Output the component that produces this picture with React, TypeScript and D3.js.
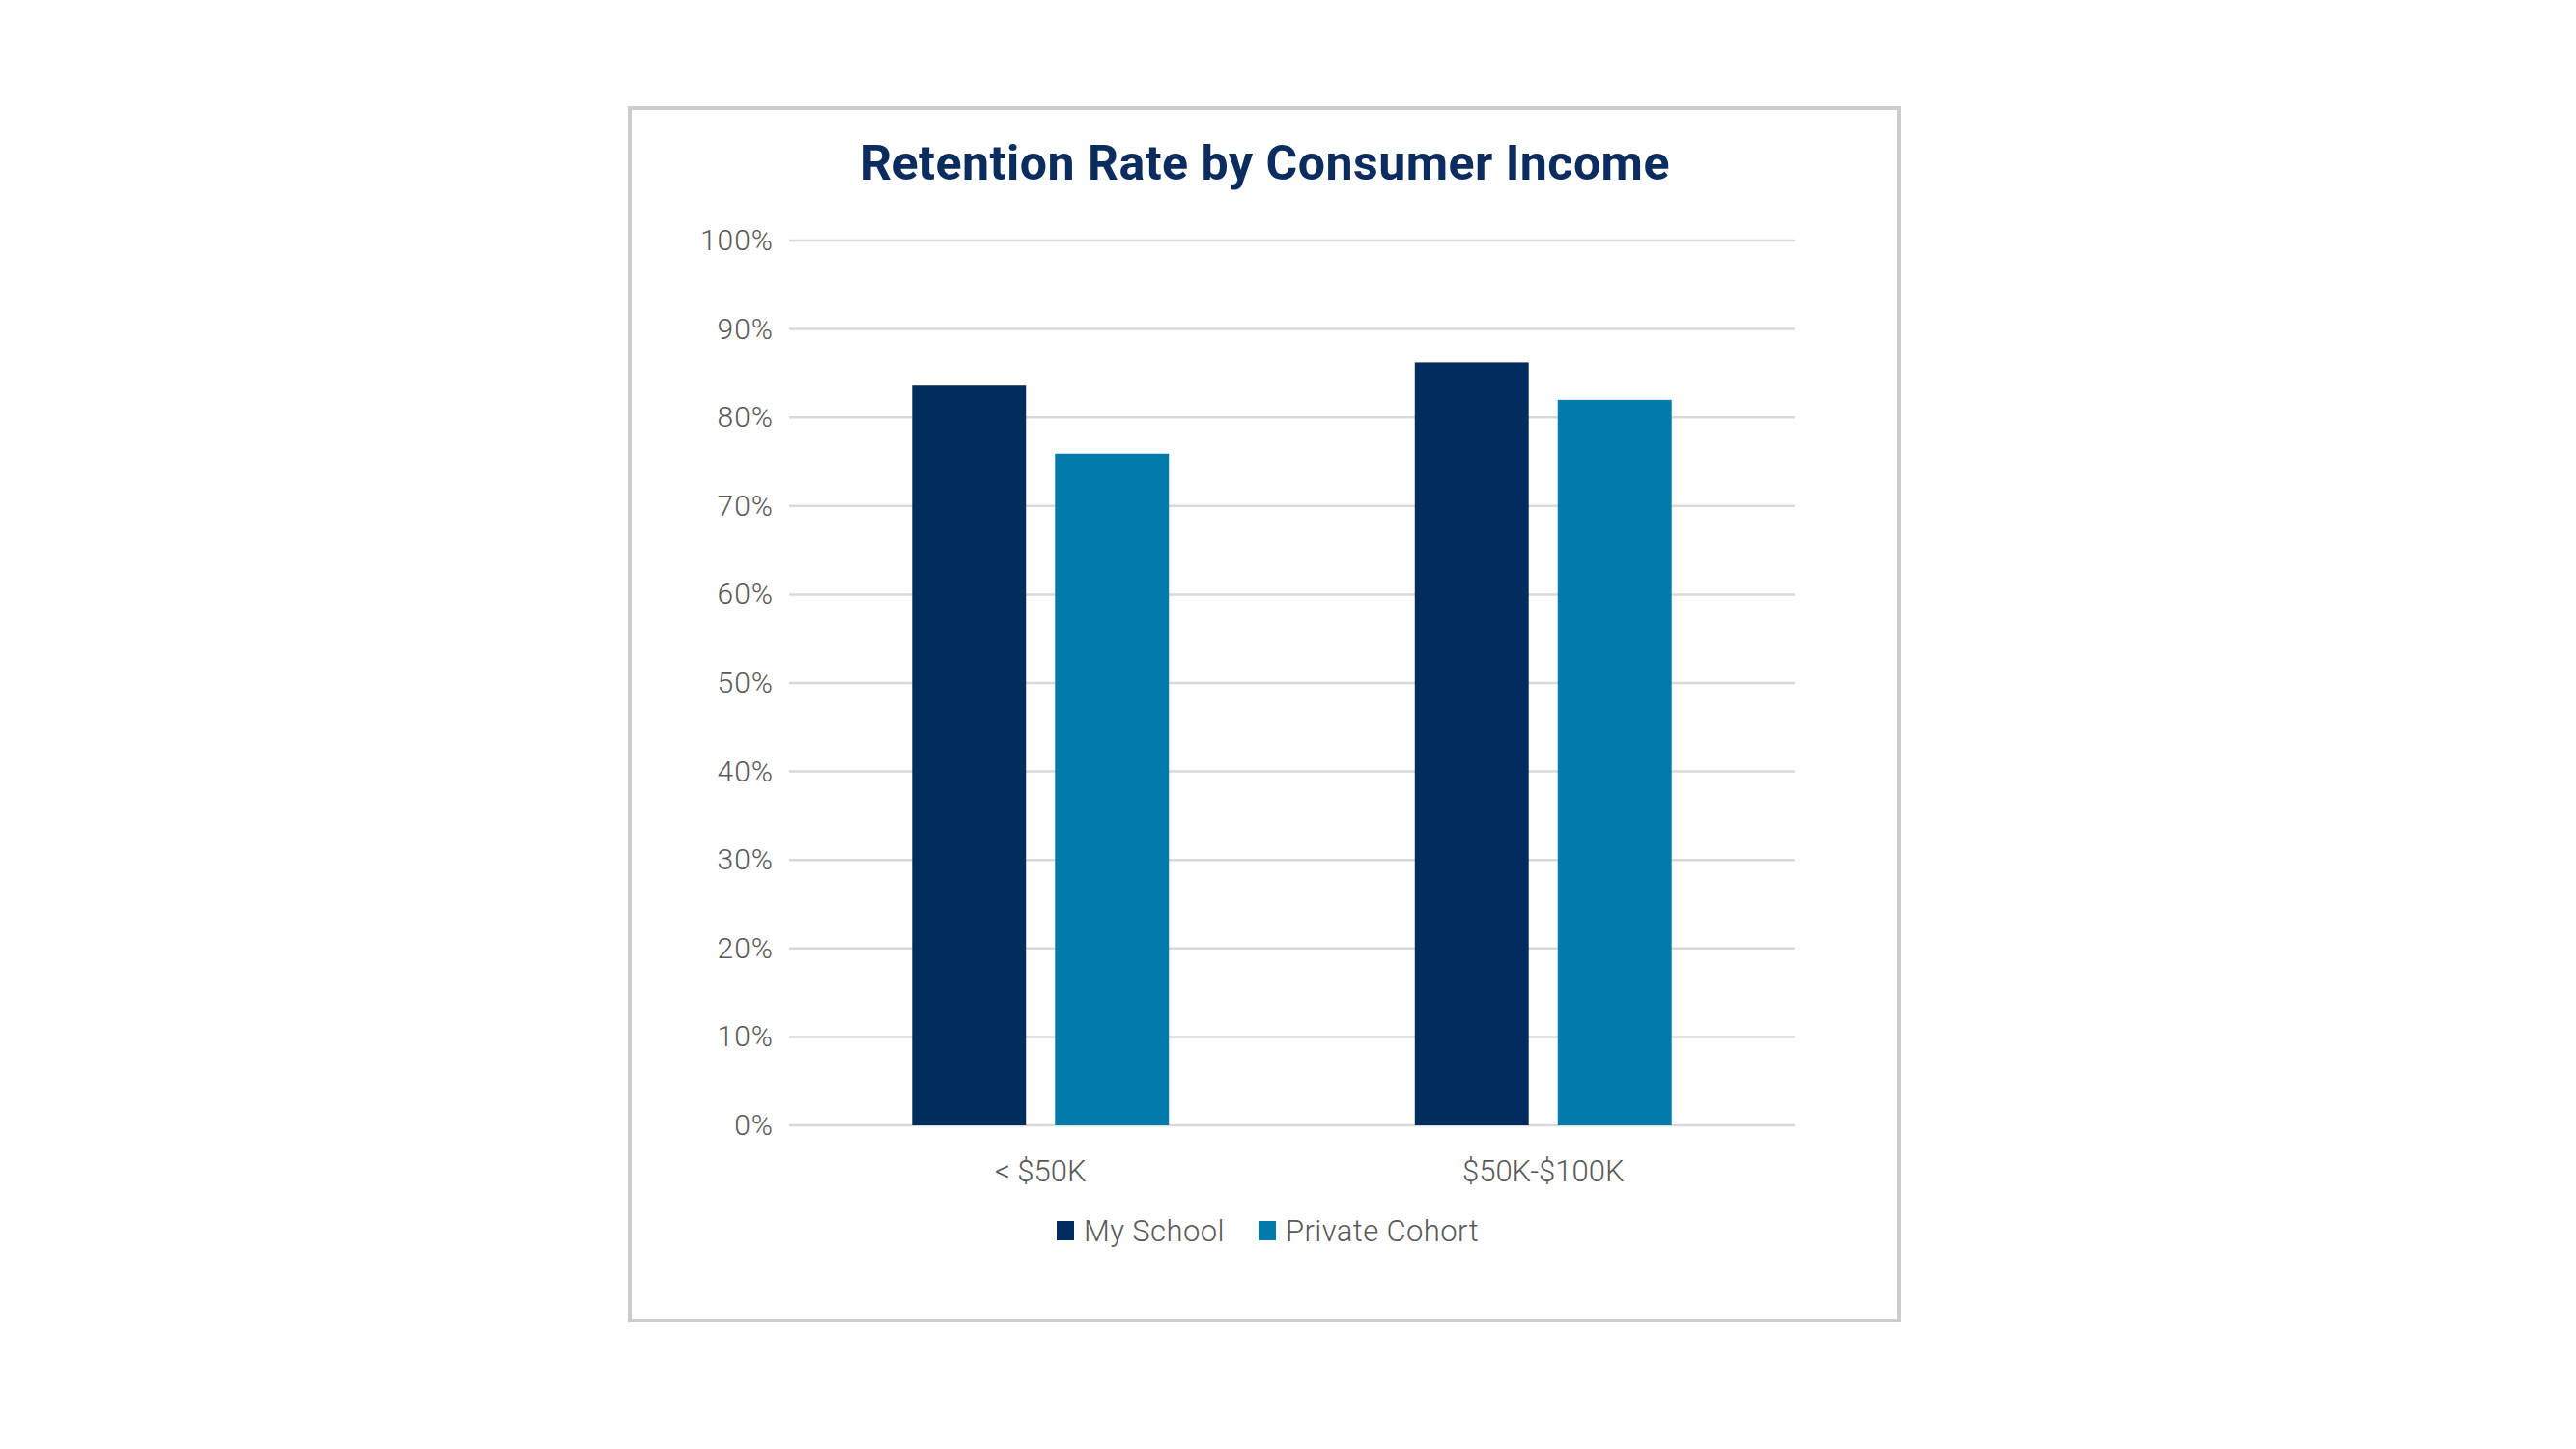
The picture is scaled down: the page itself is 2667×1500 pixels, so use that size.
import { useEffect, useRef } from 'react'
import * as d3 from 'd3'

// data
const categories = ['< $50K', '$50K-$100K']
const seriesNames = ['My School', 'Private Cohort']
const mySchool = [83.6, 86.2]
const privateCohort = [75.9, 82.0]
const yTicks = [0, 10, 20, 30, 40, 50, 60, 70, 80, 90, 100]
const colors = ['#012d5e', '#007bac']

export default function App() {
  const ref = useRef<SVGSVGElement | null>(null)

  useEffect(() => {
    if (!ref.current) return
    const width = 2667, height = 1500
    const margin = { top: 249, right: 809, bottom: 335, left: 817 }
    const svg = d3.select(ref.current)
      .attr('viewBox', `0 0 ${width} ${height}`)
      .attr('width', width).attr('height', height)
    svg.selectAll('*').remove()

    svg.append('rect').attr('width', width).attr('height', height).attr('fill', '#fff')
    // outer frame
    svg.append('rect')
      .attr('x', 652).attr('y', 112).attr('width', 1314).attr('height', 1255)
      .attr('fill', '#fff').attr('stroke', '#cccccc').attr('stroke-width', 4)

    svg.append('text')
      .attr('x', 1310).attr('y', 186)
      .attr('text-anchor', 'middle')
      .attr('font-family', 'Roboto, sans-serif').attr('font-weight', 700)
      .attr('font-size', 50).attr('fill', '#0b2c5e')
      .attr('letter-spacing', 0.5)
      .text('Retention Rate by Consumer Income')

    const x0 = d3.scaleBand().domain(categories).range([margin.left, width - margin.right]).padding(0)
    const x1 = d3.scaleBand().domain(seriesNames).range([0, x0.bandwidth()]).paddingInner(0.203).paddingOuter(0.86)
    const y = d3.scaleLinear().domain([0, 100]).range([height - margin.bottom, margin.top])

    // gridlines + y labels
    const yAxis = svg.append('g')
    yAxis.selectAll('line').data(yTicks).enter().append('line')
      .attr('x1', margin.left).attr('x2', width - margin.right)
      .attr('y1', d => y(d)).attr('y2', d => y(d))
      .attr('stroke', '#d9d9d9').attr('stroke-width', 2.5)
    yAxis.selectAll('text').data(yTicks).enter().append('text')
      .attr('x', 801).attr('y', d => y(d) + 2)
      .attr('text-anchor', 'end').attr('dominant-baseline', 'middle')
      .attr('font-family', 'Roboto, sans-serif').attr('font-weight', 300)
      .attr('font-size', 30).attr('fill', '#595959').attr('letter-spacing', 1)
      .text(d => `${d}%`)

    const rows = categories.map((c, i) => ({ c, vals: [mySchool[i], privateCohort[i]] }))
    const groups = svg.append('g').selectAll('g').data(rows).enter().append('g')
      .attr('transform', d => `translate(${x0(d.c)},0)`)
    groups.selectAll('rect')
      .data(d => d.vals.map((v, j) => ({ s: seriesNames[j], v, j })))
      .enter().append('rect')
      .attr('x', d => x1(d.s)!)
      .attr('y', d => y(d.v))
      .attr('width', x1.bandwidth())
      .attr('height', d => y(0) - y(d.v))
      .attr('fill', d => colors[d.j])

    // category labels
    svg.append('g').selectAll('text').data(categories).enter().append('text')
      .attr('x', d => x0(d)! + x0.bandwidth() / 2)
      .attr('y', 1223)
      .attr('text-anchor', 'middle')
      .attr('font-family', 'Roboto, sans-serif').attr('font-weight', 300)
      .attr('font-size', 31).attr('fill', '#595959')
      .text(d => d)

    // legend
    const legendX = [1094, 1303]
    const leg = svg.append('g').selectAll('g').data(seriesNames).enter().append('g')
      .attr('transform', (_d, i) => `translate(${legendX[i]},1264)`)
    leg.append('rect').attr('width', 18).attr('height', 20).attr('fill', (_d, i) => colors[i])
    leg.append('text')
      .attr('x', 28).attr('y', 21)
      .attr('font-family', 'Roboto, sans-serif').attr('font-weight', 300)
      .attr('font-size', 31).attr('fill', '#595959').attr('letter-spacing', 0.4)
      .text(d => d)
  }, [])

  return <svg ref={ref} style={{ position: 'absolute', left: 0, top: 0, display: 'block' }} />
}
